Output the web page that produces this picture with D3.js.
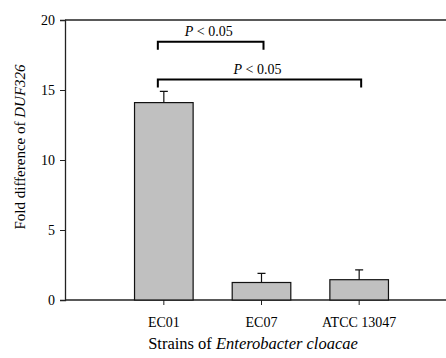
<!DOCTYPE html>
<html>
<head>
<meta charset="utf-8">
<script src="https://cdn.jsdelivr.net/npm/d3@7"></script>
<style>
  body { margin: 0; background: #fff; }
  svg text { font-family: serif; }
</style>
</head>
<body>
<div id="chart"></div>
<script>
// data
var strains = ["EC01", "EC07", "ATCC 13047"];
var foldValues = [14.1, 1.25, 1.45];
var errValues = [0.8, 0.65, 0.7];
var yTicks = [0, 5, 10, 15, 20];
// significance brackets: [from, to, level]
var sigPairs = [["EC01", "EC07", 18.45], ["EC01", "ATCC 13047", 15.75]];
var sigLabels = ["P", "P"];

var svgWidth = 446;
var svgHeight = 358;

var margin = { top: 20, right: 0, bottom: 58, left: 65 };
var width = svgWidth - margin.left - margin.right;
var height = svgHeight - margin.top - margin.bottom;

var svg = d3.select("#chart")
    .append("svg")
    .attr("width", svgWidth)
    .attr("height", svgHeight)
    .attr("font-family", "serif");

var chartGroup = svg.append("g")
    .attr("transform", `translate(${margin.left}, ${margin.top})`);

var xScale = d3.scaleBand()
    .domain(strains)
    .range([50, 343])
    .paddingInner(0.4)
    .paddingOuter(0.2);

var yScale = d3.scaleLinear()
    .domain([0, 20])
    .range([height, 0]);

// top frame line
chartGroup.append("line")
    .attr("x1", 0).attr("x2", width)
    .attr("y1", 0).attr("y2", 0)
    .attr("stroke", "#222").attr("stroke-width", 1.3);

// y axis
var leftAxis = d3.axisLeft(yScale).tickValues(yTicks).tickSize(5).tickPadding(5);
var yAxis = chartGroup.append("g").call(leftAxis);
yAxis.attr("font-family", "serif").attr("font-size", 14);
yAxis.select(".domain").attr("stroke", "#222").attr("stroke-width", 1.3);
yAxis.selectAll(".tick line").attr("stroke", "#222");
yAxis.selectAll("text").attr("fill", "#000");

// x axis (full-width baseline)
var bottomAxis = d3.axisBottom(xScale).tickSize(5).tickSizeOuter(0).tickPadding(12);
var xAxis = chartGroup.append("g")
    .attr("transform", `translate(0, ${height})`)
    .call(bottomAxis);
xAxis.attr("font-family", "serif").attr("font-size", 14);
xAxis.select(".domain").remove();
xAxis.selectAll(".tick line").attr("stroke", "#222");
xAxis.selectAll("text").attr("fill", "#000");
chartGroup.append("line")
    .attr("x1", 0).attr("x2", width)
    .attr("y1", height).attr("y2", height)
    .attr("stroke", "#222").attr("stroke-width", 1.3);

var rows = strains.map((s, i) => ({ name: s, value: foldValues[i], err: errValues[i] }));

// error bars (upper only)
var capHalf = 4;
chartGroup.selectAll(".err")
    .data(rows)
    .enter()
    .append("path")
    .attr("class", "err")
    .attr("fill", "none")
    .attr("stroke", "#111")
    .attr("stroke-width", 1.2)
    .attr("d", d => {
        var cx = xScale(d.name) + xScale.bandwidth() / 2;
        var y0 = yScale(d.value), y1 = yScale(d.value + d.err);
        return `M${cx},${y0}V${y1}M${cx - capHalf},${y1}H${cx + capHalf}`;
    });

// bars
chartGroup.selectAll(".bar")
    .data(rows)
    .enter()
    .append("rect")
    .attr("class", "bar")
    .attr("x", d => xScale(d.name))
    .attr("y", d => yScale(d.value))
    .attr("width", xScale.bandwidth())
    .attr("height", d => height - yScale(d.value))
    .attr("fill", "#c0c0c0")
    .attr("stroke", "#111")
    .attr("stroke-width", 1.2);

// significance brackets
sigPairs.forEach(function(p, i) {
    var xa = xScale(p[0]) + xScale.bandwidth() / 2 - 6;
    var xb = xScale(p[1]) + xScale.bandwidth() / 2 + 2;
    var yb = yScale(p[2]);
    chartGroup.append("path")
        .attr("fill", "none")
        .attr("stroke", "#000")
        .attr("stroke-width", 2)
        .attr("d", `M${xa},${yb + 8}V${yb}H${xb}V${yb + 8}`);
    var t = chartGroup.append("text")
        .attr("x", (xa + xb) / 2 - 2)
        .attr("y", yb - 6)
        .attr("text-anchor", "middle")
        .attr("font-size", 14);
    t.append("tspan").attr("font-style", "italic").text(sigLabels[i]);
    t.append("tspan").text(" < 0.05");
});

// axis titles
var xTitle = svg.append("text")
    .attr("x", 253)
    .attr("y", 349)
    .attr("text-anchor", "middle")
    .attr("font-size", 16.5);
xTitle.append("tspan").text("Strains of ");
xTitle.append("tspan").attr("font-style", "italic").text("Enterobacter cloacae");

var yTitle = svg.append("text")
    .attr("transform", "translate(25, 147) rotate(-90)")
    .attr("text-anchor", "middle")
    .attr("font-size", 15);
yTitle.append("tspan").text("Fold difference of ");
yTitle.append("tspan").attr("font-style", "italic").text("DUF326");
</script>
</body>
</html>
